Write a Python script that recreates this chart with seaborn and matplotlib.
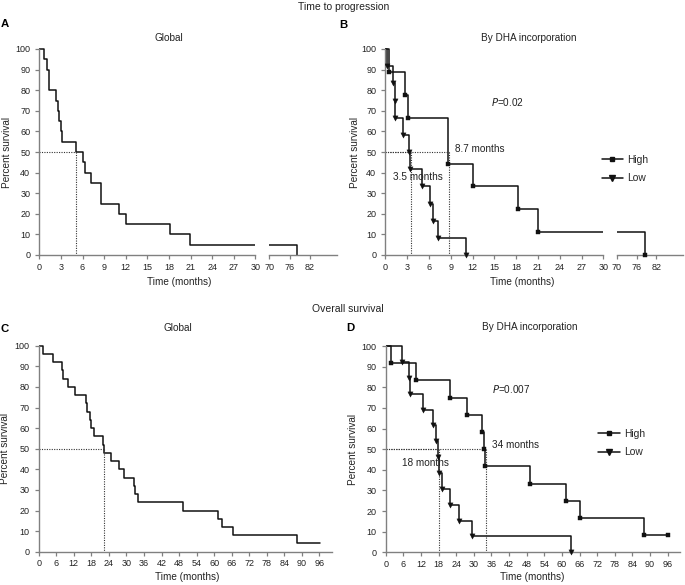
import numpy as np
import pandas as pd
import matplotlib.pyplot as plt
import seaborn as sns
from matplotlib.lines import Line2D

# Time to progression, global (months, percent after each step)
ttp_all_t = [0, 0.6, 1.0, 1.3, 2.3, 2.6, 2.8, 3.0, 3.2, 5.1, 6.1, 6.4, 7.2, 8.6, 11.0, 12.0, 18.2, 20.9, 78.3]
ttp_all_s = [100, 95, 90, 80, 75, 70, 65, 60, 55, 50, 45, 40, 35, 25, 20, 15, 10, 5, 0]
ttp_all_median = 5.1

# Time to progression by DHA incorporation
ttp_high_t = [0, 0.5, 2.75, 3.1, 8.6, 12.1, 18.2, 21.0, 78.4]
ttp_high_s = [100, 88.9, 77.8, 66.7, 44.4, 33.3, 22.2, 11.1, 0]
ttp_low_t = [0, 0.3, 1.05, 1.3, 1.4, 2.45, 3.2, 3.45, 5.1, 6.2, 6.5, 7.3, 11.1]
ttp_low_s = [100, 91.7, 83.3, 75.0, 66.7, 58.3, 50.0, 41.7, 33.3, 25.0, 16.7, 8.3, 0]
ttp_medians = [3.5, 8.7]
ttp_pval = '=0.02'

# Overall survival, global
os_all_t = [0, 1.6, 5.0, 8.0, 8.4, 10.0, 12.5, 16.2, 16.6, 17.6, 18.0, 18.9, 21.9, 22.2,
            24.6, 27.6, 29.2, 32.6, 33.1, 34.0, 49.3, 61.3, 62.7, 66.4, 88.3, 96.2]
os_all_s = [100, 96, 92, 88, 84, 80, 76, 72, 68, 64, 60, 56, 52, 48,
            44, 40, 36, 32, 28, 24, 20, 16, 12, 8, 4, 4]
os_all_median = 22.2

# Overall survival by DHA incorporation
os_high_t = [0, 1.7, 10.3, 21.9, 27.8, 32.8, 33.3, 33.9, 49.1, 61.4, 66.1, 88.0, 96.0]
os_high_s = [100, 91.7, 83.3, 75.0, 66.7, 58.3, 50.0, 41.7, 33.3, 25.0, 16.7, 8.3, 8.3]
os_low_t = [0, 5.4, 8.05, 8.3, 12.7, 16.2, 17.1, 17.8, 18.2, 19.0, 22.0, 24.9, 29.4, 63.0]
os_low_s = [100, 92.3, 84.6, 76.9, 69.2, 61.5, 53.8, 46.2, 38.5, 30.8, 23.1, 15.4, 7.7, 0]
os_medians = [18, 34]
os_pval = '=0.007'

groups = ['High', 'Low']

W, H = 685, 585
sns.set_theme(style='ticks')
plt.rcParams['font.family'] = ['Liberation Sans', 'DejaVu Sans']
fig = plt.figure(figsize=(W / 100, H / 100), dpi=100)

INK = '#111111'
AXC = '#808080'
TICK = 6.5
LAB = 7.2


def place(px0, px1, top100, bot0, ylo=-1.5, yhi=101.5):
    ppu = (bot0 - top100) / 100
    top = top100 - (yhi - 100) * ppu
    bot = bot0 - ylo * ppu
    ax = fig.add_axes([px0 / W, 1 - bot / H, (px1 - px0) / W, (bot - top) / H])
    ax.set_ylim(ylo, yhi)
    ax.spines['bottom'].set_position(('data', 0))
    ax.spines['left'].set_bounds(0, 100)
    for side in ['top', 'right']:
        ax.spines[side].set_visible(False)
    for side in ['bottom', 'left']:
        ax.spines[side].set_color(AXC)
        ax.spines[side].set_linewidth(1.0)
    ax.tick_params(axis='both', colors=AXC, labelcolor='#222222', labelsize=TICK,
                   length=3, width=0.9)
    ax.tick_params(axis='x', pad=2.5)
    ax.tick_params(axis='y', pad=3.5)
    ax.set_yticks(range(0, 101, 10))
    return ax


def curve(ax, t, s, marker=None, size=10, xmin=0, xmax=100):
    sns.lineplot(x=t, y=s, drawstyle='steps-post', estimator=None, sort=False,
                 color=INK, linewidth=1.1, ax=ax)
    if marker:
        d = pd.DataFrame({'t': t[1:], 's': s[1:]})
        d = d[(d.t >= xmin) & (d.t <= xmax)]
        sns.scatterplot(data=d, x='t', y='s', marker=marker, s=size, color=INK,
                        edgecolor=INK, linewidth=0.3, ax=ax, zorder=3)
    ax.set_xlabel('')
    ax.set_ylabel('')


def median_lines(ax, meds):
    for m in meds:
        ax.plot([0, m], [50, 50], color='#333333', lw=0.8, ls=(0, (1, 1.2)))
        ax.plot([m, m], [50, 0], color='#333333', lw=0.8, ls=(0, (1, 1.2)))


def broken(px0, pxmid, pxr, px1, top100, bot0):
    axl = place(px0, pxmid, top100, bot0)
    axr = place(pxr, px1, top100, bot0)
    axl.set_xlim(0, 30)
    axl.set_xticks(range(0, 31, 3))
    axr.set_xlim(70, 90)
    axr.set_xticks([70, 76, 82])
    axr.spines['left'].set_visible(False)
    axr.tick_params(axis='y', left=False, labelleft=False)
    return axl, axr


def ftext(x, y, s, **kw):
    kw.setdefault('ha', 'center')
    kw.setdefault('va', 'center')
    kw.setdefault('fontsize', LAB)
    kw.setdefault('color', '#222222')
    fig.text(x / W, 1 - y / H, s, **kw)


# Panel A
aL, aR = broken(39.3, 255.3, 269.3, 337, 49, 255)
for ax in [aL, aR]:
    curve(ax, ttp_all_t, ttp_all_s)
median_lines(aL, [ttp_all_median])

# Panel B
bL, bR = broken(385.3, 603.3, 616.7, 683, 49, 255)
for ax, lo, hi in [(bL, 0, 30), (bR, 70, 90)]:
    curve(ax, ttp_high_t, ttp_high_s, 's', 10, lo, hi)
    curve(ax, ttp_low_t, ttp_low_s, 'v', 14, lo, hi)
median_lines(bL, ttp_medians)
bL.text(1.1, 38, f'{ttp_medians[0]} months', fontsize=LAB, va='center', color='#222222')
bL.text(9.6, 51.5, f'{ttp_medians[1]} months', fontsize=LAB, va='center', color='#222222')
bL.text(14.6, 74.4, r'$\it{P}$' + ttp_pval, fontsize=LAB, va='center', color='#222222')

# Panel C
axc = place(38.7, 331.7, 345.7, 551.7)
axc.set_xlim(0, 100.2)
axc.set_xticks(range(0, 97, 6))
curve(axc, os_all_t, os_all_s)
median_lines(axc, [os_all_median])

# Panel D
axd = place(385.7, 680, 346, 552.3)
axd.set_xlim(0, 100.2)
axd.set_xticks(range(0, 97, 6))
curve(axd, os_high_t, os_high_s, 's', 10)
curve(axd, os_low_t, os_low_s, 'v', 14)
median_lines(axd, os_medians)
axd.text(5.4, 43.1, f'{os_medians[0]} months', fontsize=LAB, va='center', color='#222222')
axd.text(36.1, 52, f'{os_medians[1]} months', fontsize=LAB, va='center', color='#222222')
axd.text(36.1, 79, r'$\it{P}$' + os_pval, fontsize=LAB, va='center', color='#222222')

# legends
handles = [Line2D([], [], color=INK, lw=1.1, marker='s', markersize=3.3),
           Line2D([], [], color=INK, lw=1.1, marker='v', markersize=4)]
for ax, x0, y0 in [(bR, 601.7, 155), (axd, 598.3, 429)]:
    ax.legend(handles, groups, loc='upper left', bbox_to_anchor=(x0 / W, 1 - y0 / H),
              bbox_transform=fig.transFigure, frameon=False, fontsize=7.4,
              handlelength=2.1, handletextpad=0.4, labelspacing=0.8,
              borderpad=0, borderaxespad=0)

# titles, letters, labels
ftext(344, 7, 'Time to progression', fontsize=7.5)
ftext(348, 309, 'Overall survival', fontsize=7.5)
for x, y, s in [(5, 24, 'A'), (343, 25, 'B'), (4.5, 329.5, 'C'), (350, 328, 'D')]:
    ftext(x, y, s, fontsize=8.2, fontweight='bold', color='black')
ftext(169, 38, 'Global')
ftext(529, 38, 'By DHA incorporation')
ftext(178, 328, 'Global')
ftext(530, 327, 'By DHA incorporation')
for x, y in [(178.7, 281.7), (521.7, 281.7), (186.7, 577), (532.3, 577)]:
    ftext(x, y, 'Time (months)')
for x, y in [(6.7, 152), (355, 152), (5, 448.7), (353.3, 449)]:
    ftext(x, y, 'Percent survival', rotation=90)

fig.savefig('out.png', dpi=100)
